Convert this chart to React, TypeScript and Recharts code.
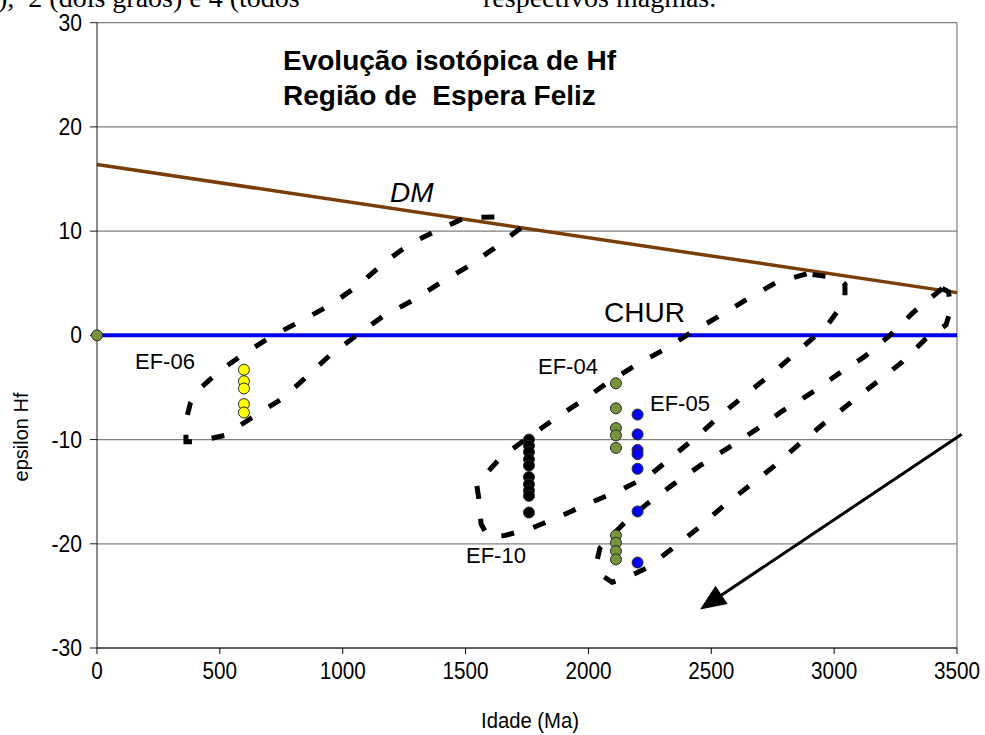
import React from 'react';
import { ComposedChart, XAxis, YAxis, CartesianGrid, Line, Scatter, ReferenceLine } from 'recharts';

// ---------- data ----------
const xTicks = [0, 500, 1000, 1500, 2000, 2500, 3000, 3500];
const yTicks = [-30, -20, -10, 0, 10, 20, 30];

const dmAges = [0, 3500];
const dmEps = [16.4, 4.1];
const churAges = [0, 3500];
const churEps = [0, 0];

const originAge = [0];
const originEps = [0];

const ef06Age = 598;
const ef06Eps = [-3.3, -4.4, -5.1, -6.6, -7.4];
const ef10Age = 1758;
const ef10Eps = [-10.0, -10.6, -11.2, -11.9, -12.5, -13.6, -14.3, -14.9, -15.4, -17.0];
const ef04Age = 2112;
const ef04Eps = [-4.6, -7.0, -8.9, -9.6, -10.8, -19.2, -19.9, -20.7, -21.5];
const ef05Age = 2200;
const ef05Eps = [-7.6, -9.5, -11.0, -11.4, -12.8, -16.9, -21.8];

// envelopes (age Ma, epsilon Hf)
const envEF06: [number, number][] = [
  [1725, 10.3], [1613, 8.3], [1505, 6.55], [1395, 5.0], [1281, 3.3], [1165, 1.85], [1057, 0],
  [948, -1.9], [847, -4.1], [752, -6.1], [636, -7.8], [521, -9.6], [400, -10.2], [362, -10.2],
  [362, -8.2], [380, -6.5], [405, -5.4], [500, -3.4], [609, -1.6], [718, 0], [840, 1.5],
  [955, 3.0], [1063, 4.8], [1165, 6.9], [1274, 8.8], [1396, 10.2], [1500, 11.3], [1680, 11.4],
];
const envEF10: [number, number][] = [
  [2888, 5.9], [2766, 5.1], [2651, 3.55], [2536, 1.9], [2420, 0.3], [2305, -1.4], [2190, -2.9],
  [2074, -4.6], [1966, -6.4], [1857, -8.1], [1749, -9.9], [1640, -11.8], [1545, -14.3],
  [1555, -15.8], [1563, -18.1], [1591, -19.3], [1660, -19.2], [1770, -18.5], [1891, -17.3],
  [2013, -16.0], [2135, -14.8], [2251, -13.4], [2359, -11.3], [2461, -9.3], [2556, -7.3],
  [2665, -5.2], [2766, -3.3], [2868, -1.2], [2970, 0.9], [3044, 3.3], [3044, 4.9], [3017, 5.5], [2888, 5.9],
];
const envEF05: [number, number][] = [
  [3440, 4.5], [3322, 2.2], [3227, 0], [3126, -2.0], [3017, -3.7], [2909, -5.5], [2787, -7.3],
  [2685, -9.0], [2569, -10.8], [2454, -12.5], [2345, -14.3], [2237, -16.2], [2142, -18.1],
  [2047, -20.4], [2035, -21.6], [2059, -23.1], [2096, -23.7], [2150, -23.3], [2239, -22.3],
  [2339, -20.5], [2441, -18.6], [2543, -16.5], [2651, -14.5], [2753, -12.6], [2854, -10.5],
  [2956, -8.5], [3065, -6.5], [3173, -4.5], [3275, -2.6], [3370, -0.4], [3455, 1.0],
  [3476, 2.6], [3465, 4.2], [3440, 4.5],
];

const arrowFrom = { x: 3519, y: -9.5 };
const arrowTo = { x: 2454, y: -26.3 };

// ---------- helpers ----------
const toPts = (xs: number[], ys: number[]) => xs.map((x, i) => ({ x, y: ys[i] }));
const colPts = (age: number, eps: number[]) => eps.map((y) => ({ x: age, y }));
const envPts = (env: [number, number][]) => env.map(([x, y]) => ({ x, y }));

const SANS = '"Liberation Sans", Arial, Helvetica, sans-serif';
const SERIF = '"Liberation Serif", "Times New Roman", serif';

const dot = (color: string) => (props: any) => (
  <circle cx={props.cx} cy={props.cy} r={5.5} fill={color} stroke="#2a2a2a" strokeWidth={1} />
);

function Txt({ x, base, fs, children, style, family }: any) {
  return (
    <div
      style={{
        position: 'absolute',
        left: x,
        top: base - 0.8465 * fs,
        fontSize: fs,
        lineHeight: `${fs}px`,
        fontFamily: family || SANS,
        whiteSpace: 'pre',
        color: '#000',
        ...style,
      }}
    >
      {children}
    </div>
  );
}

const XTick = (p: any) => {
  const { x, y, payload } = p;
  return (
    <text x={x} y={y} transform={`translate(${x},0) scale(0.9,1) translate(${-x},0)`} textAnchor="middle" dy={17} fontSize={23} fontFamily={SANS} fill="#000">
      {payload.value}
    </text>
  );
};

const YTick = (p: any) => {
  const { x, y, payload } = p;
  return (
    <text x={x} y={y} transform={`translate(${x},0) scale(0.92,1) translate(${-x},0)`} textAnchor="end" dy={8} fontSize={23} fontFamily={SANS} fill="#000">
      {payload.value}
    </text>
  );
};

const ArrowShape = (p: any) => {
  const { x1, y1, x2, y2 } = p;
  const dx = x2 - x1;
  const dy = y2 - y1;
  const len = Math.sqrt(dx * dx + dy * dy);
  const ux = dx / len;
  const uy = dy / len;
  const hl = 26;
  const hw = 11;
  const bx = x2 - ux * hl;
  const by = y2 - uy * hl;
  const pts = `${x2},${y2} ${bx - uy * hw},${by + ux * hw} ${bx + uy * hw},${by - ux * hw}`;
  return (
    <g>
      <line x1={x1} y1={y1} x2={bx + ux * 4} y2={by + uy * 4} stroke="#000" strokeWidth={3} />
      <polygon points={pts} fill="#000" />
    </g>
  );
};

const envStyle = { stroke: '#000', strokeWidth: 5, strokeDasharray: '13 20' };

export default function App() {
  const W = 985;
  const H = 735;
  return (
    <div style={{ position: 'fixed', left: 0, top: 0, width: W, height: H, overflow: 'hidden', background: '#fff' }}>
      <Txt x={-2} base={8} fs={28} family={SERIF}>{'),  2 (dois grãos) e 4 (todos'}</Txt>
      <Txt x={483} base={8} fs={28} family={SERIF}>{'respectivos magmas.'}</Txt>
      <ComposedChart width={W} height={H} margin={{ top: 22.7, right: 28, bottom: 27, left: 17 }}>
        <CartesianGrid horizontal vertical={false} stroke="#7f7f7f" strokeWidth={1.2} />
        <XAxis
          type="number"
          dataKey="x"
          domain={[0, 3500]}
          ticks={xTicks}
          interval={0}
          height={60}
          tickSize={6}
          tickMargin={8}
          stroke="#000"
          tick={<XTick />}
        />
        <YAxis
          type="number"
          dataKey="y"
          domain={[-30, 30]}
          ticks={yTicks}
          interval={0}
          width={80}
          tickSize={7}
          tickMargin={8}
          stroke="#1a1a1a"
          tick={<YTick />}
        />
        <ReferenceLine x={3500} stroke="#7f7f7f" strokeWidth={1.2} />
        <Line data={toPts(dmAges, dmEps)} dataKey="y" type="linear" stroke="#7a3e08" strokeWidth={3.5} dot={false} activeDot={false} isAnimationActive={false} />
        <Line data={toPts(churAges, churEps)} dataKey="y" type="linear" stroke="#0000ee" strokeWidth={4} dot={false} activeDot={false} isAnimationActive={false} />
        <Scatter data={colPts(ef06Age, ef06Eps)} dataKey="y" fill="#ffff00" shape={dot('#ffff00')} isAnimationActive={false} />
        <Scatter data={colPts(ef10Age, ef10Eps)} dataKey="y" fill="#000000" shape={dot('#000000')} isAnimationActive={false} />
        <Scatter data={colPts(ef04Age, ef04Eps)} dataKey="y" fill="#77933c" shape={dot('#77933c')} isAnimationActive={false} />
        <Scatter data={colPts(ef05Age, ef05Eps)} dataKey="y" fill="#0000ff" shape={dot('#0000ff')} isAnimationActive={false} />
        <Line data={envPts(envEF06)} dataKey="y" type="linear" {...envStyle} dot={false} activeDot={false} isAnimationActive={false} />
        <Line data={envPts(envEF10)} dataKey="y" type="linear" {...envStyle} dot={false} activeDot={false} isAnimationActive={false} />
        <Line data={envPts(envEF05)} dataKey="y" type="linear" {...envStyle} dot={false} activeDot={false} isAnimationActive={false} />
        <Scatter data={toPts(originAge, originEps)} dataKey="y" fill="#77933c" shape={dot('#77933c')} isAnimationActive={false} />
        <ReferenceLine segment={[arrowFrom, arrowTo]} ifOverflow="visible" shape={ArrowShape} />
      </ComposedChart>

      <Txt x={283} base={71} fs={28} style={{ fontWeight: 'bold' }}>Evolução isotópica de Hf</Txt>
      <Txt x={283} base={106} fs={28} style={{ fontWeight: 'bold' }}>{'Região de  Espera Feliz'}</Txt>
      <Txt x={390} base={203} fs={28} style={{ fontStyle: 'italic' }}>DM</Txt>
      <Txt x={604} base={323} fs={28}>CHUR</Txt>
      <Txt x={135} base={370} fs={22}>EF-06</Txt>
      <Txt x={538} base={375} fs={22}>EF-04</Txt>
      <Txt x={650} base={412} fs={22}>EF-05</Txt>
      <Txt x={466} base={564} fs={22}>EF-10</Txt>
      <Txt x={530} base={729} fs={22} style={{ transform: 'translateX(-50%) scaleX(0.92)' }}>Idade (Ma)</Txt>
      <div
        style={{
          position: 'absolute',
          left: 21,
          top: 437,
          transform: 'translate(-50%, -50%) rotate(-90deg)',
          fontSize: 20,
          lineHeight: '20px',
          fontFamily: SANS,
          whiteSpace: 'nowrap',
        }}
      >
        epsilon Hf
      </div>
    </div>
  );
}
